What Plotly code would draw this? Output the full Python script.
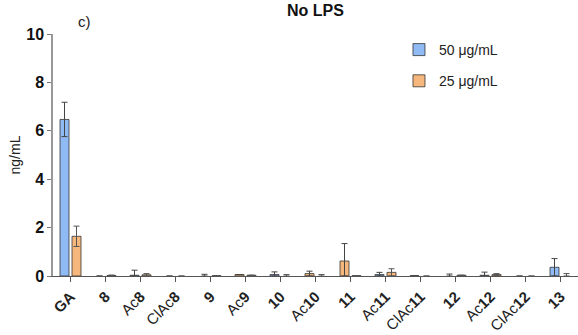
import plotly.graph_objects as go

categories = ["GA", "8", "Ac8", "ClAc8", "9", "Ac9", "10", "Ac10", "11", "Ac11", "ClAc11", "12", "Ac12", "ClAc12", "13"]
tick_labels = ["<b>GA</b>", "<b>8</b>", "Ac<b>8</b>", "ClAc<b>8</b>", "<b>9</b>", "Ac<b>9</b>", "<b>10</b>", "Ac<b>10</b>",
               "<b>11</b>", "Ac<b>11</b>", "ClAc<b>11</b>", "<b>12</b>", "Ac<b>12</b>", "ClAc<b>12</b>", "<b>13</b>"]
vals_50 = [6.47, 0.0, 0.03, 0.0, 0.0, 0.06, 0.06, 0.10, 0.62, 0.06, 0.01, 0.0, 0.03, 0.0, 0.36]
err_50 = [0.71, 0.0, 0.21, 0.0, 0.07, 0.0, 0.11, 0.10, 0.72, 0.09, 0.0, 0.08, 0.13, 0.0, 0.36]
vals_25 = [1.64, 0.02, 0.05, 0.0, 0.01, 0.03, 0.0, 0.0, 0.01, 0.15, 0.0, 0.03, 0.06, 0.0, 0.0]
err_25 = [0.42, 0.02, 0.05, 0.0, 0.01, 0.0, 0.06, 0.06, 0.0, 0.15, 0.0, 0.0, 0.04, 0.0, 0.10]

BLUE = "#8fbaf3"
ORANGE = "#f5b77c"
# bars drawn in orange at the 50 µg/mL position in the reference
orange_in_50 = {"Ac9", "Ac10", "11"}
colors_50 = [ORANGE if c in orange_in_50 else BLUE for c in categories]

FONT = "Arial, Liberation Sans, sans-serif"

def minus(v, e):
    return [min(a, b) for a, b in zip(v, e)]

def outline(v):
    return [0.8 if a > 0 else 0 for a in v]

fig = go.Figure()
fig.add_trace(go.Bar(
    x=categories, y=vals_50, name="50 \u03bcg/mL", legendgroup="a",
    marker=dict(color=colors_50, line=dict(color="#333333", width=outline(vals_50))),
    error_y=dict(type="data", array=err_50, arrayminus=minus(vals_50, err_50),
                 color="#444444", thickness=1, width=3),
))
fig.add_trace(go.Bar(
    x=categories, y=vals_25, name="25 \u03bcg/mL", legendgroup="b",
    marker=dict(color=ORANGE, line=dict(color="#333333", width=outline(vals_25))),
    error_y=dict(type="data", array=err_25, arrayminus=minus(vals_25, err_25),
                 color="#555555", thickness=1, width=3),
))

fig.update_layout(
    width=578, height=335,
    margin=dict(l=53, r=0, t=34, b=59, autoexpand=False),
    paper_bgcolor="white", plot_bgcolor="white",
    barmode="group", bargap=0.314, bargroupgap=0.25,
    font=dict(family=FONT, size=13, color="#111111"),
    title=dict(text="<b>No LPS</b>", x=0.5, xref="paper", xanchor="center",
               y=1 - 10/335, yanchor="middle", font=dict(size=16, family=FONT, color="#111111")),
    legend=dict(x=0.659, xanchor="left", y=1.0, yanchor="top",
                font=dict(size=14, family=FONT, color="#222222"),
                tracegroupgap=10, bgcolor="rgba(0,0,0,0)"),
    xaxis=dict(
        tickmode="array", tickvals=categories, ticktext=tick_labels,
        tickangle=-45, showline=True, linecolor="#555555", linewidth=1.2,
        ticks="outside", ticklen=5, tickcolor="#555555", automargin=False,
        tickfont=dict(size=15, family=FONT, color="#222222"),
        range=[-0.5, 14.5], showgrid=False, zeroline=False,
    ),
    yaxis=dict(
        range=[0, 10], tickvals=[0, 2, 4, 6, 8, 10],
        ticktext=["<b>0</b>", "<b>2</b>", "<b>4</b>", "<b>6</b>", "<b>8</b>", "<b>10</b>"],
        showline=True, linecolor="#999999", linewidth=1.5,
        ticks="outside", ticklen=4, tickcolor="#777777", automargin=False,
        tickfont=dict(size=16, family=FONT, color="#111111"),
        showgrid=False, zeroline=False,
        title=dict(text="ng/mL", font=dict(size=14, family=FONT, color="#222222"), standoff=2),
    ),
)
fig.add_annotation(text="c)", xref="paper", yref="paper", x=(76-53)/525, y=1 + (34-22)/242,
                   xanchor="left", yanchor="middle", showarrow=False,
                   font=dict(size=15, family=FONT, color="#222222"))

fig.write_html("out.html", config={"displayModeBar": False},
               post_script="document.body.style.margin='0';document.body.style.overflow='hidden';")
